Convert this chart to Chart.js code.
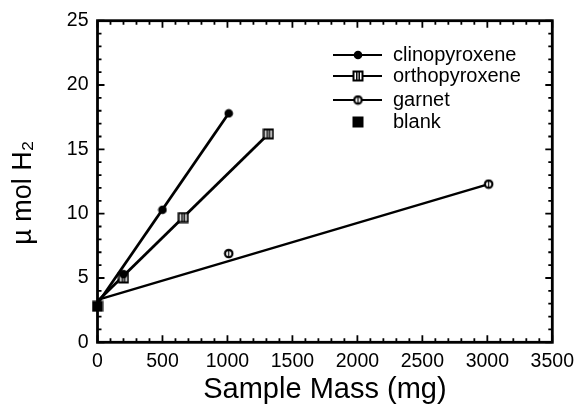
<!DOCTYPE html>
<html>
<head>
<meta charset="utf-8">
<script src="https://cdn.jsdelivr.net/npm/chart.js@4/dist/chart.umd.min.js"></script>
<style>
  html, body { margin: 0; padding: 0; background: #fff; }
</style>
</head>
<body>
<canvas id="chart" width="582" height="404"></canvas>
<script>
// measured points
var clinoMass = [200, 500, 1010];
var clinoH2 = [5.3, 10.3, 17.8];
var orthoMass = [200, 660, 1315];
var orthoH2 = [5.0, 9.7, 16.2];
var garnetMass = [1010, 3010];
var garnetH2 = [6.9, 12.3];
var blankMass = [0];
var blankH2 = [2.8];

// fitted lines (start, end)
var clinoFitMass = [0, 1010];
var clinoFitH2 = [3.0, 17.8];
var orthoFitMass = [0, 1315];
var orthoFitH2 = [3.2, 16.2];
var garnetFitMass = [0, 3010];
var garnetFitH2 = [3.3, 12.3];

var seriesNames = ['clinopyroxene', 'orthopyroxene', 'garnet', 'blank'];
var xTicks = [0, 500, 1000, 1500, 2000, 2500, 3000, 3500];
var yTicks = [0, 5, 10, 15, 20, 25];

function pts(xs, ys) {
  return xs.map(function (x, i) { return { x: x, y: ys[i] }; });
}

// marker images
function marker(size, draw) {
  var c = document.createElement('canvas');
  c.width = size; c.height = size;
  var g = c.getContext('2d');
  g.strokeStyle = '#000'; g.fillStyle = '#000';
  draw(g, size);
  return c;
}
var dotMark = marker(10, function (g) {
  g.beginPath(); g.arc(5, 5, 4.3, 0, Math.PI * 2); g.fill();
});
var squareMark = marker(12, function (g) {
  g.fillStyle = '#fff'; g.fillRect(1.5, 1.5, 9, 9);
  g.lineWidth = 2; g.strokeRect(1.5, 1.5, 9, 9);
  g.lineWidth = 1.5;
  g.beginPath(); g.moveTo(4.8, 2); g.lineTo(4.8, 10); g.moveTo(7.2, 2); g.lineTo(7.2, 10); g.stroke();
});
var circleMark = marker(11, function (g) {
  g.fillStyle = '#fff';
  g.beginPath(); g.arc(5.5, 5.5, 3.7, 0, Math.PI * 2); g.fill();
  g.lineWidth = 2.2; g.stroke();
  g.lineWidth = 1.2;
  g.beginPath(); g.moveTo(5.5, 2.5); g.lineTo(5.5, 8.5); g.stroke();
});
var blankMark = marker(12, function (g) {
  g.fillRect(0.5, 0.5, 11, 11);
});

function fitLine(xs, ys, w) {
  return { type: 'line', data: pts(xs, ys), borderColor: '#000', borderWidth: w,
    pointRadius: 0, showLine: true, clip: false, order: 2 };
}
function markers(xs, ys, img) {
  return { type: 'scatter', data: pts(xs, ys), pointStyle: img, pointRadius: 5,
    showLine: false, clip: false, order: 1 };
}

// frame with inward ticks on all four sides
var framePlugin = {
  id: 'frame',
  afterDatasetsDraw: function (chart) {
    var ctx = chart.ctx, a = chart.chartArea;
    var xs = chart.scales.x, ys = chart.scales.y;
    ctx.save();
    ctx.strokeStyle = '#000';
    ctx.lineWidth = 1.8;
    ctx.beginPath();
    for (var v = 0; v <= 3500; v += 100) {
      var px = xs.getPixelForValue(v);
      var len = v % 500 === 0 ? 7 : 4;
      ctx.moveTo(px, a.bottom); ctx.lineTo(px, a.bottom - len);
      ctx.moveTo(px, a.top); ctx.lineTo(px, a.top + len);
    }
    for (var u = 0; u <= 25; u += 1) {
      var py = ys.getPixelForValue(u);
      var l2 = u % 5 === 0 ? 7 : 4;
      ctx.moveTo(a.left, py); ctx.lineTo(a.left + l2, py);
      ctx.moveTo(a.right, py); ctx.lineTo(a.right - l2, py);
    }
    ctx.stroke();
    ctx.lineWidth = 2.8;
    ctx.strokeRect(a.left, a.top, a.right - a.left, a.bottom - a.top);
    ctx.restore();
  }
};

// legend inside the plot
var legendPlugin = {
  id: 'insideLegend',
  afterDraw: function (chart) {
    var ctx = chart.ctx;
    var rowsY = [55, 76, 100, 122];
    var imgs = [dotMark, squareMark, circleMark, blankMark];
    ctx.save();
    ctx.font = '20px "Liberation Sans", Arial, sans-serif';
    ctx.textBaseline = 'middle';
    ctx.fillStyle = '#000';
    ctx.strokeStyle = '#000';
    ctx.lineWidth = 2.2;
    seriesNames.forEach(function (name, i) {
      var y = rowsY[i];
      if (i < 3) {
        ctx.beginPath(); ctx.moveTo(333, y); ctx.lineTo(382, y); ctx.stroke();
      }
      var im = imgs[i];
      ctx.drawImage(im, 358 - im.width / 2, y - im.height / 2);
      ctx.fillText(name, 393, y);
    });
    ctx.restore();
  }
};

var tickFont = { family: '"Liberation Sans", Arial, sans-serif', size: 19.5 };
function plain(v) { return String(v); }

var ctx = document.getElementById('chart').getContext('2d');
new Chart(ctx, {
  data: {
    datasets: [
      fitLine(clinoFitMass, clinoFitH2, 2.8),
      fitLine(orthoFitMass, orthoFitH2, 2.8),
      fitLine(garnetFitMass, garnetFitH2, 2.3),
      markers(clinoMass, clinoH2, dotMark),
      markers(orthoMass, orthoH2, squareMark),
      markers(garnetMass, garnetH2, circleMark),
      markers(blankMass, blankH2, blankMark)
    ]
  },
  options: {
    responsive: false,
    animation: false,
    layout: { padding: { top: 17.5, right: 23.5, left: 0, bottom: 0 } },
    plugins: { legend: { display: false }, tooltip: { enabled: false } },
    scales: {
      x: {
        type: 'linear', min: 0, max: 3500,
        afterBuildTicks: function (s) { s.ticks = xTicks.map(function (v) { return { value: v }; }); },
        afterFit: function (s) { s.height = 61.7; },
        grid: { display: false, drawTicks: false },
        border: { display: false },
        ticks: { color: '#000', padding: 8, maxRotation: 0, autoSkip: false,
          callback: plain, font: tickFont },
        title: { display: true, text: 'Sample Mass (mg)', color: '#000',
          padding: 0,
          font: { family: '"Liberation Sans", Arial, sans-serif', size: 29, lineHeight: 1 } }
      },
      y: {
        type: 'linear', min: 0, max: 25,
        afterBuildTicks: function (s) { s.ticks = yTicks.map(function (v) { return { value: v }; }); },
        afterFit: function (s) { s.width = 97.5; },
        grid: { display: false, drawTicks: false },
        border: { display: false },
        ticks: { color: '#000', padding: 9, autoSkip: false,
          callback: plain, font: tickFont },
        title: { display: true, text: 'µ mol H₂   ', color: '#000',
          padding: { top: 10, bottom: 0 },
          font: { family: '"Liberation Sans", Arial, sans-serif', size: 27, lineHeight: 1 } }
      }
    }
  },
  plugins: [framePlugin, legendPlugin]
});
</script>
</body>
</html>
